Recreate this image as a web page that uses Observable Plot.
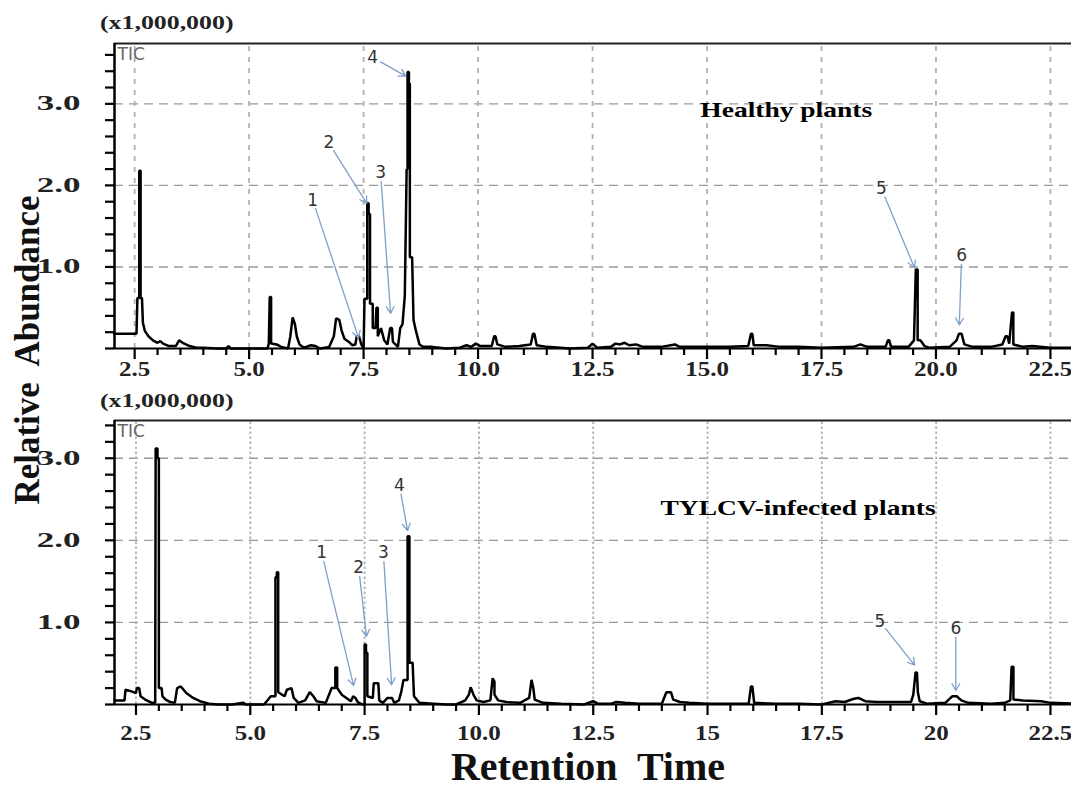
<!DOCTYPE html>
<html>
<head>
<meta charset="utf-8">
<script src="https://cdn.jsdelivr.net/npm/d3@7"></script>
<script src="https://cdn.jsdelivr.net/npm/@observablehq/plot@0.6"></script>
<style>
  html, body { margin: 0; padding: 0; background: #fff; }
  #wrap { position: relative; width: 1071px; height: 794px; overflow: hidden; }
  .panel { position: absolute; left: 0; top: 0; }
  .scaleLbl { position: absolute; font-family: "Liberation Serif", serif; font-weight: bold; font-size: 19px; line-height: 1; color: #222; transform-origin: left center; transform: scaleX(1.36); }
  #ytitle { position: absolute; font-family: "Liberation Serif", serif; font-weight: bold; font-size: 35px; line-height: 1; color: #111; white-space: pre;
            left: 27px; top: 350px; transform: translate(-50%, -50%) rotate(-90deg); }
  #xtitle { position: absolute; font-family: "Liberation Serif", serif; font-weight: bold; font-size: 40px; line-height: 1; color: #111; white-space: pre;
            left: 588px; top: 767px; transform: translate(-50%, -50%); }
</style>
</head>
<body>
<div id="wrap">
  <div id="top" class="panel" style="top:0px"></div>
  <div id="bot" class="panel" style="top:380px"></div>
  <div class="scaleLbl" style="left:100px; top:13px;">(x1,000,000)</div>
  <div class="scaleLbl" style="left:100px; top:391px;">(x1,000,000)</div>
  <div id="ytitle">Relative  Abundance</div>
  <div id="xtitle">Retention  Time</div>
</div>
<script>
// ---------- data ----------
const xTickValues = [2.5, 5, 7.5, 10, 12.5, 15, 17.5, 20, 22.5];
const topXLabels = ["2.5", "5.0", "7.5", "10.0", "12.5", "15.0", "17.5", "20.0", "22.5"];
const botXLabels = ["2.5", "5.0", "7.5", "10.0", "12.5", "15", "17.5", "20", "22.5"];
const yTickValues = [1, 2, 3];
const yTickLabels = ["1.0", "2.0", "3.0"];
const panelTitles = ["Healthy plants", "TYLCV-infected plants"];
const peakIds = ["1", "2", "3", "4", "5", "6"];

// Healthy plants TIC (retention time in min, abundance x1,000,000)
const healthyTime = [2.05,2.54,2.56,2.6,2.6,2.63,2.63,2.66,2.68,2.72,2.8,2.9,3.0,3.06,3.12,3.25,3.4,3.47,3.55,3.7,3.85,4.0,4.3,4.5,4.55,4.6,5.4,5.43,5.45,5.48,5.48,5.6,5.7,5.85,5.9,5.95,6.0,6.04,6.1,6.2,6.35,6.45,6.55,6.75,6.85,6.9,6.97,7.02,7.08,7.18,7.25,7.32,7.35,7.4,7.45,7.5,7.52,7.58,7.58,7.61,7.61,7.64,7.64,7.7,7.7,7.76,7.78,7.81,7.81,7.88,7.95,8.02,8.08,8.12,8.14,8.25,8.3,8.35,8.4,8.44,8.46,8.46,8.49,8.49,8.51,8.51,8.56,8.59,8.65,8.72,8.8,9.0,9.3,9.6,9.75,9.85,9.95,10.05,10.3,10.35,10.38,10.42,10.6,10.9,11.15,11.2,11.23,11.28,11.5,11.8,12.0,12.4,12.5,12.6,12.9,13.0,13.1,13.2,13.3,13.45,13.6,14.0,14.3,14.4,15.0,15.5,15.9,15.96,15.99,16.02,16.3,16.6,17.0,17.5,18.2,18.35,18.5,18.9,18.95,18.98,19.02,19.4,19.52,19.56,19.6,19.6,19.66,19.75,19.85,20.3,20.45,20.5,20.56,20.62,20.8,21.2,21.45,21.52,21.56,21.6,21.66,21.69,21.69,21.9,22.1,22.5,23.0];
const healthyAbund = [0.18,0.18,0.62,0.62,2.18,2.18,0.62,0.62,0.32,0.22,0.15,0.1,0.07,0.09,0.06,0.03,0.03,0.1,0.07,0.03,0.01,0.01,0.0,0.0,0.03,0.0,0.0,0.06,0.63,0.63,0.06,0.05,0.02,0.0,0.15,0.38,0.3,0.15,0.05,0.01,0.04,0.03,0.0,0.02,0.15,0.37,0.35,0.22,0.12,0.08,0.04,0.05,0.15,0.15,0.05,0.0,0.61,0.61,1.78,1.78,1.65,1.65,0.55,0.55,0.25,0.25,0.5,0.5,0.15,0.25,0.1,0.05,0.25,0.25,0.08,0.02,0.25,0.3,0.65,2.2,2.2,3.39,3.39,3.25,3.25,1.12,1.12,0.35,0.2,0.05,0.02,0.02,0.0,0.01,0.04,0.02,0.06,0.03,0.03,0.15,0.15,0.05,0.02,0.03,0.05,0.18,0.18,0.04,0.02,0.01,0.0,0.01,0.06,0.01,0.02,0.06,0.05,0.07,0.04,0.05,0.02,0.02,0.05,0.02,0.02,0.02,0.03,0.18,0.18,0.04,0.04,0.02,0.02,0.01,0.02,0.05,0.02,0.02,0.1,0.1,0.02,0.02,0.1,0.97,0.97,0.1,0.1,0.03,0.01,0.02,0.1,0.18,0.18,0.05,0.02,0.02,0.05,0.15,0.15,0.06,0.44,0.44,0.05,0.02,0.03,0.01,0.01];

// TYLCV-infected plants TIC
const infectedTime = [2.03,2.25,2.27,2.4,2.5,2.52,2.57,2.6,2.7,2.85,2.92,2.93,2.97,2.97,3.0,3.0,3.06,3.08,3.15,3.25,3.35,3.4,3.48,3.6,3.75,3.9,4.1,4.3,4.6,4.85,4.9,5.3,5.45,5.55,5.55,5.58,5.58,5.61,5.61,5.75,5.8,5.9,5.95,6.05,6.2,6.3,6.38,6.45,6.65,6.78,6.86,6.86,6.9,6.9,7.0,7.1,7.2,7.25,7.3,7.35,7.45,7.5,7.5,7.53,7.53,7.56,7.56,7.68,7.7,7.8,7.82,7.9,8.0,8.1,8.15,8.25,8.3,8.35,8.44,8.44,8.48,8.48,8.55,8.58,8.7,9.0,9.3,9.5,9.7,9.78,9.82,9.88,9.95,10.1,10.25,10.3,10.34,10.34,10.42,10.6,10.9,11.1,11.15,11.19,11.22,11.4,11.8,12.3,12.5,12.6,12.9,13.0,13.2,13.5,14.0,14.1,14.2,14.25,14.4,14.6,15.0,15.5,15.9,15.95,15.98,16.02,16.5,17.0,17.5,17.8,18.0,18.2,18.3,18.45,18.7,19.2,19.45,19.5,19.55,19.58,19.6,19.64,19.8,20.2,20.35,20.45,20.55,20.7,21.2,21.5,21.62,21.65,21.69,21.69,21.9,22.3,22.5,23.0];
const infectedAbund = [0.05,0.05,0.18,0.16,0.14,0.2,0.2,0.1,0.06,0.02,0.02,3.12,3.12,3.0,3.0,0.2,0.2,0.1,0.06,0.03,0.02,0.2,0.22,0.14,0.08,0.04,0.01,0.0,0.0,0.02,0.0,0.0,0.1,0.1,1.55,1.55,1.61,1.61,0.15,0.1,0.18,0.2,0.08,0.02,0.05,0.15,0.1,0.04,0.02,0.2,0.2,0.45,0.45,0.2,0.12,0.08,0.04,0.1,0.08,0.03,0.0,0.0,0.73,0.73,0.63,0.63,0.1,0.08,0.26,0.26,0.05,0.02,0.08,0.08,0.02,0.05,0.15,0.3,0.3,2.05,2.05,0.51,0.51,0.1,0.02,0.01,0.0,0.0,0.05,0.12,0.21,0.12,0.05,0.03,0.05,0.32,0.28,0.12,0.05,0.03,0.02,0.08,0.3,0.2,0.06,0.02,0.01,0.0,0.04,0.01,0.01,0.03,0.02,0.01,0.01,0.15,0.15,0.06,0.03,0.02,0.01,0.01,0.01,0.22,0.22,0.02,0.01,0.01,0.0,0.04,0.03,0.07,0.08,0.04,0.03,0.03,0.03,0.12,0.39,0.39,0.15,0.04,0.01,0.02,0.1,0.1,0.05,0.02,0.01,0.02,0.05,0.46,0.46,0.06,0.05,0.04,0.02,0.01];

// Annotated peaks: arrow tip (peak) and label position, in (min, x1e6)
const healthyPeakTime  = [7.39, 7.57, 8.09, 8.42, 19.53, 20.51];
const healthyPeakAbund = [0.13, 1.78, 0.43, 3.34, 0.99, 0.29];
const healthyLabelTime  = [6.39, 6.74, 7.87, 7.70, 18.81, 20.56];
const healthyLabelAbund = [1.82, 2.52, 2.16, 3.57, 1.96, 1.14];
const infectedPeakTime  = [7.26, 7.54, 8.09, 8.44, 19.53, 20.43];
const infectedPeakAbund = [0.23, 0.83, 0.24, 2.12, 0.48, 0.17];
const infectedLabelTime  = [6.56, 7.37, 7.91, 8.26, 18.77, 20.43];
const infectedLabelAbund = [1.85, 1.67, 1.85, 2.67, 1.01, 0.93];

// ---------- drawing ----------
const SERIF = "Liberation Serif";
const xMinor = d3.range(2.5, 23.01, 0.5);
const AXIS_LEFT = 114;   // pixel position of the y axis line
const TICK_ROOM = 12;    // room kept inside the frame for tick marks

function stretchEl(el, s) {
  const x = +el.getAttribute("x") || 0, y = +el.getAttribute("y") || 0;
  const t = el.getAttribute("transform") || "";
  el.setAttribute("transform", `${t} translate(${x},${y}) scale(${s},1) translate(${-x},${-y})`);
}
function stretch(svg, selector, s) {
  svg.querySelectorAll(selector).forEach(el => stretchEl(el, s));
}

// x0 = time at the y axis, x1 = time at the right edge; baselineY = pixel row (in svg) of abundance 0
function panel({time, abund, x0, x1, yMax, height, marginTop, baselineY, xLabels, title, titleX, titleY,
                peakT, peakV, labT, labV, vDash, xLabelPad}) {
  const trace = time.map((t, i) => ({t, v: abund[i]}));
  const ann = peakIds.map((id, i) => ({id, t1: labT[i], v1: labV[i], t2: peakT[i], v2: peakV[i]}));
  const yMinor = d3.range(0, yMax + 0.001, 0.2);
  const kx = (x1 - x0) / (1071 - AXIS_LEFT);          // data units per pixel
  const ky = yMax / (baselineY - marginTop);
  const marginLeft = AXIS_LEFT - TICK_ROOM;
  const marginBottom = height - (baselineY + TICK_ROOM);
  const xDomain = [x0 - TICK_ROOM * kx, x1];
  const yDomain = [-TICK_ROOM * ky, yMax];
  const yTicks = yMinor.map(v => ({v}));
  const xTicks = xMinor.map(t => ({t, len: (xTickValues.includes(t) ? 11 : 7) * ky}));
  const svg = Plot.plot({
    width: 1071, height, marginLeft, marginRight: 0, marginTop, marginBottom,
    x: {domain: xDomain}, y: {domain: yDomain},
    style: {background: "transparent", overflow: "visible", color: "black"},
    marks: [
      // grid
      Plot.ruleY(yTickValues, {x1: x0, x2: x1, stroke: "#9a9a9a", strokeWidth: 1.4, strokeDasharray: "9,6"}),
      Plot.ruleX(xTickValues, {y1: 0, y2: yMax, stroke: "#b0b0b0", strokeWidth: 1.8, strokeDasharray: vDash}),
      // chromatogram
      Plot.line(trace, {x: "t", y: "v", stroke: "#000", strokeWidth: 2.5, strokeLinejoin: "miter"}),
      // frame lines
      Plot.ruleY([0], {x1: x0, x2: x1, stroke: "#000", strokeWidth: 2}),
      Plot.ruleY([yMax], {x1: x0, x2: x1, stroke: "#222", strokeWidth: 2}),
      Plot.ruleX([x0], {y1: 0, y2: yMax, stroke: "#000", strokeWidth: 2.5}),
      // tick marks
      Plot.ruleY(yTicks, {y: "v", x1: x0 - 9 * kx, x2: x0, stroke: "#000", strokeWidth: 2.2}),
      Plot.ruleX(xTicks, {x: "t", y1: 0, y2: d => -d.len, stroke: "#000", strokeWidth: 2.2}),
      // tick labels
      Plot.axisY(yTickValues, {tickSize: 0, tickPadding: 34 - TICK_ROOM, tickFormat: (d, i) => yTickLabels[i],
                  fontFamily: SERIF, fontWeight: "bold", fontSize: 20, fill: "#222", label: null}),
      Plot.axisX(xTickValues, {tickSize: 0, tickPadding: xLabelPad,
                  tickFormat: (d, i) => xLabels[i], fontFamily: SERIF, fontWeight: "bold", fontSize: 20, fill: "#222", label: null}),
      Plot.text(["TIC"], {frameAnchor: "top-left", dx: 3 + TICK_ROOM, dy: 4, fill: "#666", fontSize: 17, fontFamily: "DejaVu Sans"}),
      Plot.text([title], {x: titleX, y: titleY, fontFamily: SERIF, fontWeight: "bold", fontSize: 22, fill: "#000"}),
      Plot.arrow(ann, {x1: "t1", y1: "v1", x2: "t2", y2: "v2", stroke: "#7f9fcb", strokeWidth: 1.3,
                       headLength: 9, insetStart: 9, insetEnd: 0}),
      Plot.text(ann, {x: "t1", y: "v1", text: "id", fontSize: 17, fill: "#333", fontFamily: "DejaVu Sans"})
    ]
  });
  stretch(svg, 'g[aria-label="y-axis tick label"] text', 1.75);
  stretch(svg, 'g[aria-label="x-axis tick label"] text', 1.25);
  svg.querySelectorAll("text").forEach(el => { if (el.textContent === title) stretchEl(el, 1.25); });
  return svg;
}

document.getElementById("top").append(panel({
  time: healthyTime, abund: healthyAbund, x0: 2.06, x1: 22.96, yMax: 3.74,
  height: 380, marginTop: 43, baselineY: 348, xLabels: topXLabels,
  title: panelTitles[0], titleX: 16.73, titleY: 2.93,
  peakT: healthyPeakTime, peakV: healthyPeakAbund, labT: healthyLabelTime, labV: healthyLabelAbund,
  vDash: "5,6", xLabelPad: 1
}));
document.getElementById("bot").append(panel({
  time: infectedTime, abund: infectedAbund, x0: 2.03, x1: 22.96, yMax: 3.46,
  height: 414, marginTop: 40, baselineY: 324, xLabels: botXLabels,
  title: panelTitles[1], titleX: 16.98, titleY: 2.4,
  peakT: infectedPeakTime, peakV: infectedPeakAbund, labT: infectedLabelTime, labV: infectedLabelAbund,
  vDash: "2.5,2.5", xLabelPad: 9
}));
</script>
</body>
</html>
